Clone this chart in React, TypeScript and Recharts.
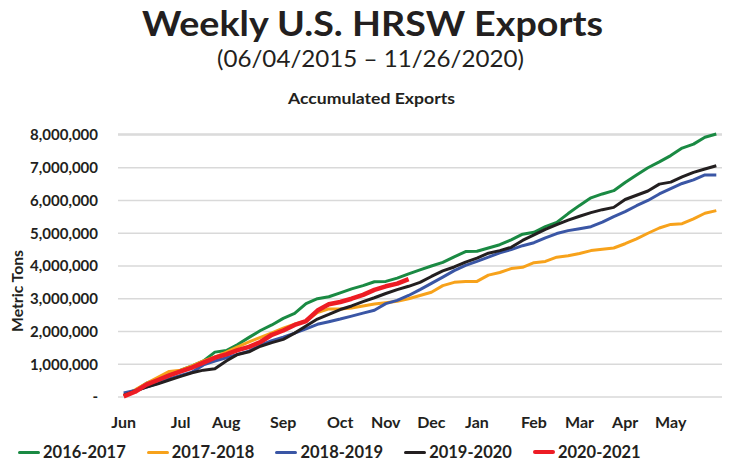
import React from 'react';
import { LineChart, Line, XAxis, YAxis, CartesianGrid } from 'recharts';

const SERIES_NAMES = ['2016-2017', '2017-2018', '2018-2019', '2019-2020', '2020-2021'];
const SERIES_COLORS = ['#1a8a43', '#f7a21b', '#3a56a5', '#231f20', '#ed1c24'];
const SERIES_WIDTHS = [3, 3, 3, 3, 4.5];

const MONTH_TICKS = [0, 5, 9, 14, 19, 23, 27, 31, 36, 40, 44, 48];
const MONTH_LABELS = ['Jun', 'Jul', 'Aug', 'Sep', 'Oct', 'Nov', 'Dec', 'Jan', 'Feb', 'Mar', 'Apr', 'May'];
const Y_TICKS = [0, 1000000, 2000000, 3000000, 4000000, 5000000, 6000000, 7000000, 8000000];

// Accumulated exports, millions of metric tons, 53 weeks from early June
const S2016 = [0.05, 0.2, 0.42, 0.55, 0.68, 0.82, 0.95, 1.1, 1.37, 1.42, 1.6, 1.82, 2.03, 2.2, 2.4, 2.55, 2.85, 3.0, 3.06, 3.18, 3.3, 3.4, 3.52, 3.53, 3.63, 3.76, 3.88, 4.0, 4.11, 4.28, 4.44, 4.45, 4.55, 4.65, 4.8, 4.97, 5.03, 5.2, 5.33, 5.6, 5.85, 6.08, 6.2, 6.3, 6.55, 6.78, 7.0, 7.18, 7.37, 7.6, 7.72, 7.93, 8.03];
const S2017 = [0.05, 0.22, 0.42, 0.6, 0.78, 0.82, 0.95, 1.1, 1.22, 1.37, 1.53, 1.68, 1.82, 1.96, 2.1, 2.22, 2.32, 2.58, 2.69, 2.69, 2.72, 2.78, 2.84, 2.88, 2.92, 3.0, 3.1, 3.2, 3.4, 3.5, 3.53, 3.53, 3.72, 3.8, 3.92, 3.96, 4.1, 4.14, 4.27, 4.31, 4.38, 4.47, 4.51, 4.55, 4.68, 4.83, 5.0, 5.16, 5.27, 5.29, 5.44, 5.61, 5.69];
const S2018 = [0.12, 0.2, 0.3, 0.42, 0.55, 0.66, 0.76, 0.98, 1.1, 1.2, 1.3, 1.4, 1.58, 1.72, 1.83, 1.95, 2.08, 2.22, 2.3, 2.38, 2.47, 2.56, 2.65, 2.85, 2.95, 3.1, 3.28, 3.47, 3.66, 3.86, 4.02, 4.14, 4.27, 4.4, 4.5, 4.62, 4.71, 4.86, 4.99, 5.08, 5.14, 5.2, 5.34, 5.51, 5.66, 5.84, 6.0, 6.2, 6.36, 6.52, 6.63, 6.78, 6.78];
const S2019 = [0.05, 0.18, 0.3, 0.4, 0.52, 0.63, 0.74, 0.82, 0.86, 1.1, 1.3, 1.38, 1.55, 1.66, 1.76, 1.95, 2.17, 2.38, 2.52, 2.67, 2.78, 2.91, 3.03, 3.16, 3.28, 3.38, 3.5, 3.68, 3.85, 3.97, 4.12, 4.24, 4.39, 4.47, 4.57, 4.78, 4.95, 5.12, 5.26, 5.4, 5.52, 5.63, 5.72, 5.79, 6.03, 6.16, 6.29, 6.5, 6.56, 6.72, 6.86, 6.96, 7.06];
const S2020 = [0.02, 0.16, 0.38, 0.52, 0.66, 0.78, 0.9, 1.05, 1.2, 1.3, 1.43, 1.53, 1.68, 1.9, 2.03, 2.2, 2.32, 2.64, 2.83, 2.9, 3.0, 3.12, 3.27, 3.38, 3.46, 3.6];

const SERIES = [S2016, S2017, S2018, S2019, S2020];
const KEYS = ['s0', 's1', 's2', 's3', 's4'];

const data = S2016.map((_, i) => {
  const row: Record<string, number | undefined> = { idx: i };
  SERIES.forEach((s, k) => {
    row[KEYS[k]] = s[i] !== undefined ? s[i] * 1000000 : undefined;
  });
  return row;
});

const FONT = 'Lato, "Open Sans", sans-serif';
const TEXT = '#231f20';

const fmtY = (v: number) => (v === 0 ? '-' : v.toLocaleString('en-US'));
const fmtX = (v: number) => {
  const k = MONTH_TICKS.indexOf(v);
  return k >= 0 ? MONTH_LABELS[k] : '';
};

export default function App() {
  return (
    <div style={{ position: 'absolute', left: 0, top: 0, width: 729, height: 466, background: '#fff', fontFamily: FONT }}>
      <LineChart
        width={729}
        height={466}
        data={data}
        margin={{ top: 134, right: 7, bottom: 39, left: 0 }}
        style={{ position: 'absolute', left: 0, top: 0 }}
      >
        <CartesianGrid vertical={false} stroke="#d9d9d9" strokeWidth={1.5} />
        <XAxis
          dataKey="idx"
          type="number"
          domain={[-0.5, 52.5]}
          ticks={MONTH_TICKS}
          tickFormatter={fmtX}
          interval={0}
          axisLine={false}
          tickLine={false}
          tickSize={6}
          tickMargin={14}
          height={30}
          tick={{ fill: TEXT, fontSize: 16, fontWeight: 700, fontFamily: FONT }}
        />
        <YAxis
          type="number"
          domain={[0, 8000000]}
          ticks={Y_TICKS}
          tickFormatter={fmtY}
          axisLine={false}
          tickLine={false}
          tickSize={6}
          tickMargin={14}
          width={118}
          tick={{ fill: TEXT, fontSize: 15, fontWeight: 700, fontFamily: FONT }}
        />
        {KEYS.map((k, i) => (
          <Line
            key={k}
            dataKey={k}
            name={SERIES_NAMES[i]}
            type="linear"
            stroke={SERIES_COLORS[i]}
            strokeWidth={SERIES_WIDTHS[i]}
            strokeLinejoin="round"
            dot={false}
            activeDot={false}
            connectNulls={false}
            isAnimationActive={false}
          />
        ))}
      </LineChart>
      <svg width={729} height={466} style={{ position: 'absolute', left: 0, top: 0, pointerEvents: 'none' }}>
        <text x={372.5} y={36} textAnchor="middle" fontSize={35} fontWeight={700} fill={TEXT} fontFamily={FONT}
          textLength={461} lengthAdjust="spacingAndGlyphs">
          Weekly U.S. HRSW Exports
        </text>
        <text x={370.5} y={66.5} textAnchor="middle" fontSize={23.5} fill={TEXT} fontFamily={FONT}
          textLength={307} lengthAdjust="spacingAndGlyphs">
          (06/04/2015 – 11/26/2020)
        </text>
        <text x={371.5} y={104} textAnchor="middle" fontSize={16} fontWeight={700} fill={TEXT} fontFamily={FONT}
          textLength={167} lengthAdjust="spacingAndGlyphs">
          Accumulated Exports
        </text>
        <text
          x={0}
          y={0}
          transform="translate(23,291) rotate(-90)"
          textAnchor="middle"
          fontSize={16}
          fontWeight={700}
          fill={TEXT}
          fontFamily={FONT}
          textLength={82}
          lengthAdjust="spacingAndGlyphs"
        >
          Metric Tons
        </text>
      </svg>
      <div
        style={{
          position: 'absolute',
          left: 18,
          top: 441,
          display: 'flex',
          alignItems: 'center',
          whiteSpace: 'nowrap',
          fontFamily: FONT,
          fontWeight: 700,
          fontSize: 16.5,
          color: TEXT,
          lineHeight: '22px',
        }}
      >
        {SERIES_NAMES.map((n, i) => (
          <div key={n} style={{ display: 'flex', alignItems: 'center', marginRight: 21 }}>
            <span
              style={{
                display: 'inline-block',
                width: 22,
                height: i === 4 ? 4 : 3,
                background: SERIES_COLORS[i],
                borderRadius: 2,
                marginRight: 3,
              }}
            />
            <span>{n}</span>
          </div>
        ))}
      </div>
    </div>
  );
}
